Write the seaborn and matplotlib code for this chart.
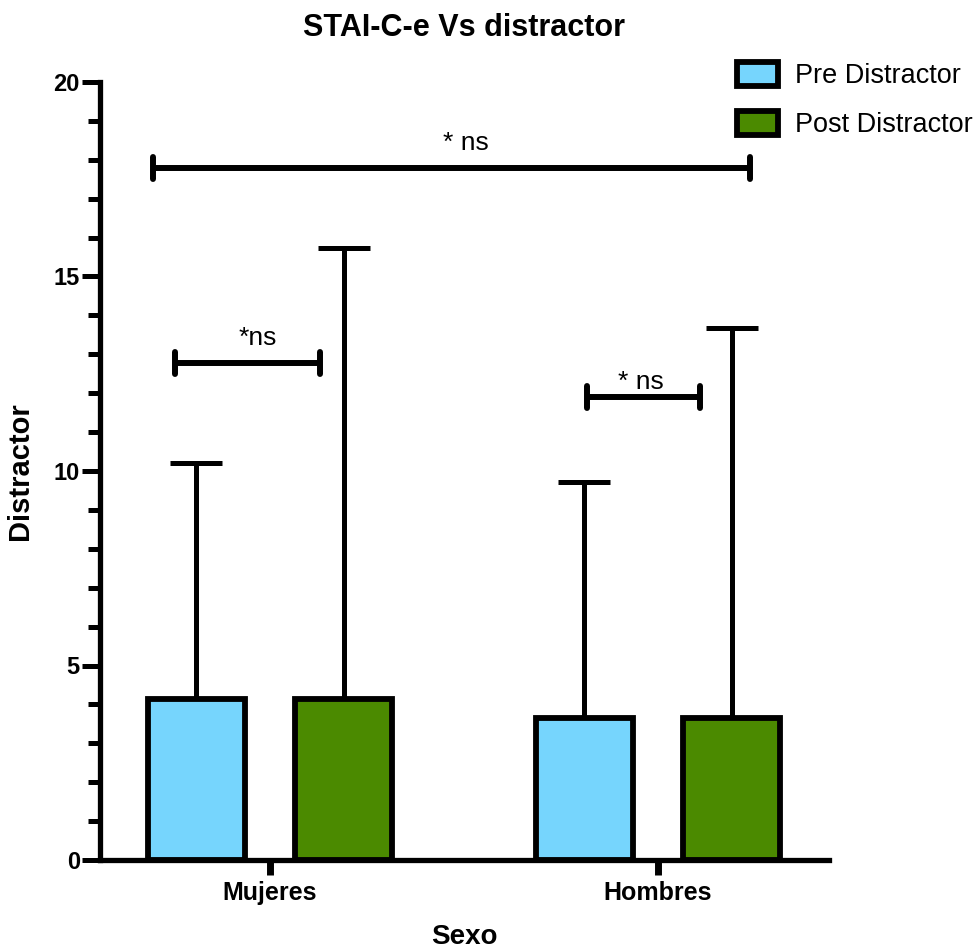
import numpy as np
import pandas as pd
import matplotlib
matplotlib.use("Agg")
import matplotlib.pyplot as plt
import seaborn as sns
from matplotlib.patches import Patch

# ---- data ----
categories = ["Mujeres", "Hombres"]
groups = ["Pre Distractor", "Post Distractor"]
pre_mean = [4.13, 3.64]
post_mean = [4.13, 3.64]
pre_sd = [6.08, 6.08]
post_sd = [11.60, 10.04]
y_ticks = [0, 5, 10, 15, 20]

# significance annotations: (x_left, x_right, y, label, label_x, label_y)
annotations = [
    (-0.302, 1.237, 17.79, "* ns", 0.505, 18.43),
    (-0.245, 0.129, 12.78, "*ns", -0.031, 13.42),
    (0.817, 1.108, 11.90, "* ns", 0.956, 12.29),
]

colors = ["#76D5FD", "#4B8A00"]

df = pd.DataFrame({
    "Sexo": categories * 2,
    "Grupo": [groups[0]] * 2 + [groups[1]] * 2,
    "value": pre_mean + post_mean,
})

sns.set_theme(style="white")
plt.rcParams["font.family"] = ["Liberation Sans", "DejaVu Sans"]
plt.rcParams["text.color"] = "black"
plt.rcParams["axes.labelcolor"] = "black"
plt.rcParams["xtick.color"] = "black"
plt.rcParams["ytick.color"] = "black"

fig = plt.figure(figsize=(9.79, 9.5), dpi=100)
ax = fig.add_axes([100 / 979, 1 - 860 / 950, (829 - 100) / 979, (860 - 82) / 950])

sns.barplot(data=df, x="Sexo", y="value", hue="Grupo", hue_order=groups,
            order=categories, palette=colors, width=0.76, gap=0.34,
            edgecolor="black", linewidth=4.2, errorbar=None, legend=False,
            saturation=1, ax=ax)

bar_containers = list(ax.containers)
sds = [pre_sd, post_sd]
means = [pre_mean, post_mean]
for ci, cont in enumerate(bar_containers):
    for bi, bar in enumerate(cont.patches):
        xc = bar.get_x() + bar.get_width() / 2
        ax.errorbar([xc], [means[ci][bi]], yerr=[[0], [sds[ci][bi]]], fmt="none",
                    ecolor="black", elinewidth=3.6, capsize=18.5, capthick=3.6,
                    zorder=1)
for p in ax.patches:
    p.set_zorder(2)

for x1, x2, y, lab, lx, ly in annotations:
    ax.plot([x1, x2], [y, y], color="black", lw=4.3, solid_capstyle="butt", zorder=3)
    for xx in (x1, x2):
        ax.plot([xx, xx], [y - 0.28, y + 0.28], color="black", lw=4.3,
                solid_capstyle="round", zorder=3)
    ax.text(lx, ly, lab, ha="center", va="center", fontsize=19, color="black", zorder=4)

ax.set_xlim(-0.438, 1.441)
ax.set_ylim(0, 20)
ax.set_yticks(y_ticks)
ax.set_yticks(np.arange(0, 21, 1), minor=True)
ax.set_yticklabels([str(t) for t in y_ticks], fontsize=17, fontweight="bold")
ax.set_xticks(range(len(categories)))
ax.set_xticklabels(categories, fontsize=18, fontweight="bold")

ax.tick_params(axis="y", which="major", direction="out", length=13, width=3.6,
               color="black", pad=1.5, left=True)
ax.tick_params(axis="y", which="minor", direction="out", length=8.5, width=3.6,
               color="black", left=True)
ax.tick_params(axis="x", which="major", direction="out", length=11, width=5,
               color="black", pad=4, bottom=True)

for s in ["top", "right"]:
    ax.spines[s].set_visible(False)
for s in ["left", "bottom"]:
    ax.spines[s].set_linewidth(3.8)
    ax.spines[s].set_color("black")

ax.set_xlabel("Sexo", fontsize=20, fontweight="bold", labelpad=14)
ax.set_ylabel("Distractor", fontsize=21, fontweight="bold", labelpad=14)
ax.set_title("STAI-C-e Vs distractor", fontsize=22, fontweight="bold", pad=33)

handles = [Patch(facecolor=c, edgecolor="black", linewidth=4.2) for c in colors]
fig.legend(handles, groups, loc="upper left", bbox_to_anchor=(737 / 979, 1 - 62 / 950),
           frameon=False, fontsize=19.5, handlelength=1.5, handleheight=1.0,
           handletextpad=0.65, labelspacing=0.8, borderpad=0, borderaxespad=0)

fig.savefig("out.png", dpi=100, facecolor="white")
